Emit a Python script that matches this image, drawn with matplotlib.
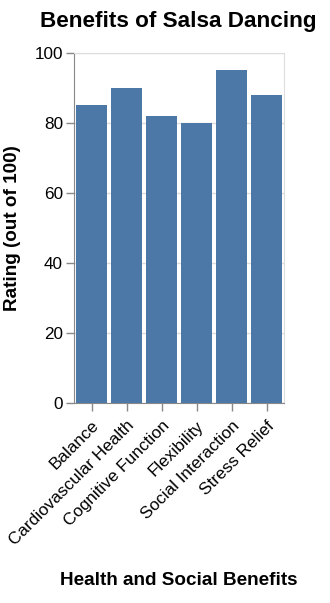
import matplotlib.pyplot as plt

categories = ['Balance', 'Cardiovascular Health', 'Cognitive Function',
              'Flexibility', 'Social Interaction', 'Stress Relief']
ratings = [85, 90, 82, 80, 95, 88]
y_ticks = [0, 20, 40, 60, 80, 100]

plt.rcParams['font.family'] = ['Liberation Sans', 'DejaVu Sans']

fig = plt.figure(figsize=(3.3, 6.03), dpi=100)
ax = fig.add_axes([74 / 330, 1 - 402.7 / 603, 210 / 330, 350 / 603])

x = range(len(categories))
ax.bar(x, ratings, width=0.9, color='#4c78a8', zorder=3)

ax.set_xlim(-0.5, len(categories) - 0.5)
ax.set_ylim(0, 100)
ax.set_yticks(y_ticks)
ax.set_yticklabels([str(v) for v in y_ticks])
ax.set_xticks(list(x))
ax.set_xticklabels(categories, rotation=45, ha='right', va='top',
                   rotation_mode='anchor')

# grid and frame, vega-lite look
ax.yaxis.grid(True, color='#dddddd', linewidth=1, zorder=0)
ax.set_axisbelow(True)
for side in ['top', 'right']:
    ax.spines[side].set_color('#dddddd')
ax.spines['left'].set_color('#888888')
ax.spines['bottom'].set_color('#888888')
ax.tick_params(axis='both', colors='#888888', length=6, width=1,
               labelcolor='black', labelsize=12.3)
ax.tick_params(axis='x', pad=5)
ax.tick_params(axis='y', pad=2)

ax.set_xlabel('Health and Social Benefits', fontsize=13.6, fontweight='bold')
ax.xaxis.set_label_coords(0.5, -0.484)
ax.set_ylabel('Rating (out of 100)', fontsize=13.6, fontweight='bold')
ax.yaxis.set_label_coords(-0.25, 0.5)

fig.text(178 / 330, 1 - 22 / 603, 'Benefits of Salsa Dancing',
         ha='center', va='center', fontsize=16.2, fontweight='bold')

fig.savefig('out.png', dpi=100)
